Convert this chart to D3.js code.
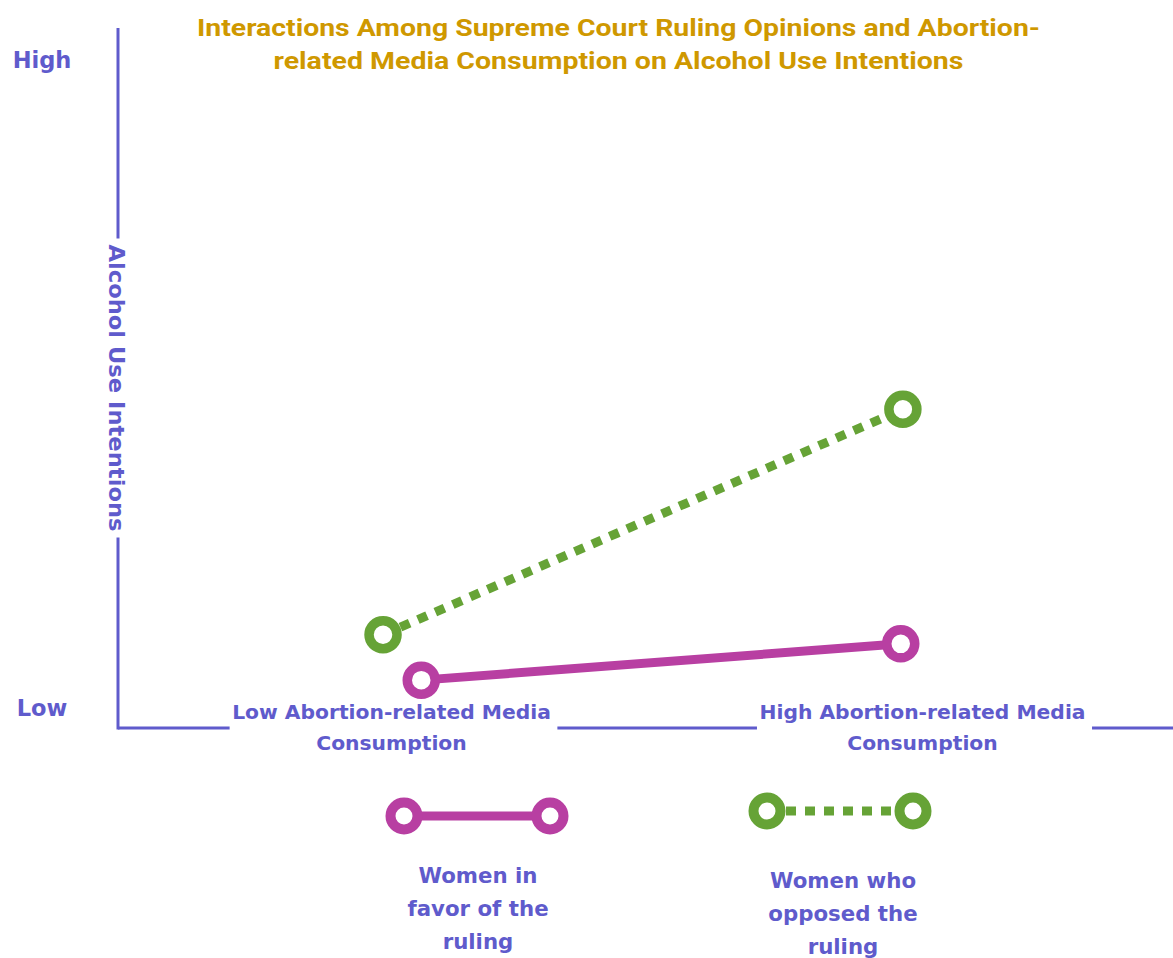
<!DOCTYPE html>
<html>
<head>
<meta charset="utf-8">
<script src="https://cdn.jsdelivr.net/npm/d3@7"></script>
<style>
  html, body { margin: 0; padding: 0; background: #ffffff; }
  svg { display: block; }
  .lab { font-family: "DejaVu Sans", "Noto Sans", sans-serif; font-weight: 700; fill: #5f5bcc; }
  .title { font-family: Roboto, "Liberation Sans", sans-serif; font-weight: 700; fill: #cf9800; }
</style>
</head>
<body>
<svg id="chart" width="1173" height="958"></svg>
<script>
// ---- data ----
const titleLines = ["Interactions Among Supreme Court Ruling Opinions and Abortion-",
                    "related Media Consumption on Alcohol Use Intentions"];
const yAxisTitle = "Alcohol Use Intentions";
const yTickValues = [0, 1];
const yTickLabels = ["Low", "High"];
const xTickValues = [0, 1];
const xTickLabels = [["Low Abortion-related Media", "Consumption"],
                     ["High Abortion-related Media", "Consumption"]];
const seriesNames = [["Women in", "favor of the", "ruling"],
                     ["Women who", "opposed the", "ruling"]];
// Women in favor of the ruling (solid pink)
const favorX = [0.057, 0.960];
const favorY = [0.043, 0.099];
// Women who opposed the ruling (dotted green)
const opposedX = [-0.015, 0.964];
const opposedY = [0.113, 0.461];

const purple = "#5f5bcc", pink = "#b83fa2", green = "#66a336";

const svg = d3.select("#chart");
const x = d3.scaleLinear().domain([0, 1]).range([391, 922]);
const y = d3.scaleLinear().domain([0, 1]).range([708, 60]);
const axisX0 = 118, axisY0 = 728;

// title
const titleWidths = [843, 690];
svg.append("g").selectAll("text").data(titleLines).join("text")
  .attr("class", "title").attr("x", 618.5).attr("y", (d, i) => 36 + i * 33)
  .attr("text-anchor", "middle").style("font-size", "23px")
  .attr("textLength", (d, i) => titleWidths[i]).attr("lengthAdjust", "spacingAndGlyphs")
  .text(d => d);

// y axis ticks (labels only)
const yAxis = d3.axisLeft(y).tickValues(yTickValues)
  .tickFormat((d, i) => yTickLabels[i]).tickSize(0).tickPadding(0);
const gy = svg.append("g").attr("transform", `translate(${axisX0},0)`).call(yAxis);
gy.select(".domain").remove();
gy.selectAll(".tick text").attr("class", "lab").attr("x", -76).attr("dy", "0.35em")
  .attr("text-anchor", "middle").style("font-size", "22.5px").attr("fill", null);

// y axis title (rotated)
const yCenter = 388, yTitleLen = 287;
svg.append("text").attr("class", "lab")
  .attr("transform", `translate(${axisX0 - 1},${yCenter}) rotate(90)`)
  .attr("text-anchor", "middle").attr("dy", "0.36em").style("font-size", "22px")
  .attr("textLength", yTitleLen).attr("lengthAdjust", "spacingAndGlyphs")
  .text(yAxisTitle);

// x axis ticks (two line labels)
const xAxis = d3.axisBottom(x).tickValues(xTickValues).tickFormat("").tickSize(0);
const gx = svg.append("g").attr("transform", `translate(0,${axisY0})`).call(xAxis);
gx.select(".domain").remove();
gx.selectAll(".tick text").remove();
const xt = gx.selectAll(".tick").append("text").attr("class", "lab xlab")
  .attr("text-anchor", "middle").style("font-size", "20.3px").attr("y", -9);
xt.selectAll("tspan").data((d, i) => xTickLabels[i]).join("tspan")
  .attr("x", 0).attr("dy", (d, i) => i === 0 ? 0 : 31).text(d => d);

// axis line segments with gaps around labels
const gaps = [];
gx.selectAll("text.xlab").each(function (d) {
  const b = this.getBBox();
  gaps.push([x(d) + b.x - 2, x(d) + b.x + b.width + 7]);
});
const xSegs = [[axisX0, gaps[0][0]], [gaps[0][1], gaps[1][0]], [gaps[1][1], 1173]];
svg.append("g").selectAll("line").data(xSegs).join("line")
  .attr("x1", d => d[0]).attr("x2", d => d[1]).attr("y1", axisY0).attr("y2", axisY0)
  .attr("stroke", purple).attr("stroke-width", 3);
const ySegs = [[28, yCenter - yTitleLen / 2 - 6], [yCenter + yTitleLen / 2 + 6, axisY0 + 1.5]];
svg.append("g").selectAll("line").data(ySegs).join("line")
  .attr("x1", axisX0).attr("x2", axisX0).attr("y1", d => d[0]).attr("y2", d => d[1])
  .attr("stroke", purple).attr("stroke-width", 3);

// series
const series = [
  { xs: favorX, ys: favorY, color: pink, dash: null },
  { xs: opposedX, ys: opposedY, color: green, dash: "10,9" }
];
const line = d3.line().x(d => x(d[0])).y(d => y(d[1]));
series.forEach(s => {
  const pts = s.xs.map((v, i) => [v, s.ys[i]]);
  svg.append("path").datum(pts).attr("d", line).attr("fill", "none")
    .attr("stroke", s.color).attr("stroke-width", 9)
    .attr("stroke-dasharray", s.dash);
  svg.append("g").selectAll("circle").data(pts).join("circle")
    .attr("cx", d => x(d[0])).attr("cy", d => y(d[1])).attr("r", 14)
    .attr("fill", "#ffffff").attr("stroke", s.color).attr("stroke-width", 9.5);
});

// legend
const legendItems = [
  { x1: 404, x2: 550, y: 816, color: pink, dash: null, tx: 478, ty: 883, names: seriesNames[0] },
  { x1: 767, x2: 913, y: 811, color: green, dash: "10,9", tx: 843, ty: 888, names: seriesNames[1] }
];
legendItems.forEach(l => {
  const g = svg.append("g");
  g.append("line").attr("x1", l.x1).attr("x2", l.x2).attr("y1", l.y).attr("y2", l.y)
    .attr("stroke", l.color).attr("stroke-width", 9).attr("stroke-dasharray", l.dash);
  g.selectAll("circle").data([l.x1, l.x2]).join("circle")
    .attr("cx", d => d).attr("cy", l.y).attr("r", 13.5)
    .attr("fill", "#ffffff").attr("stroke", l.color).attr("stroke-width", 10);
  g.append("text").attr("class", "lab").attr("text-anchor", "middle").style("font-size", "21.3px")
    .attr("y", l.ty)
    .selectAll("tspan").data(l.names).join("tspan")
    .attr("x", l.tx).attr("dy", (d, i) => i === 0 ? 0 : 33).text(d => d);
});
</script>
</body>
</html>
